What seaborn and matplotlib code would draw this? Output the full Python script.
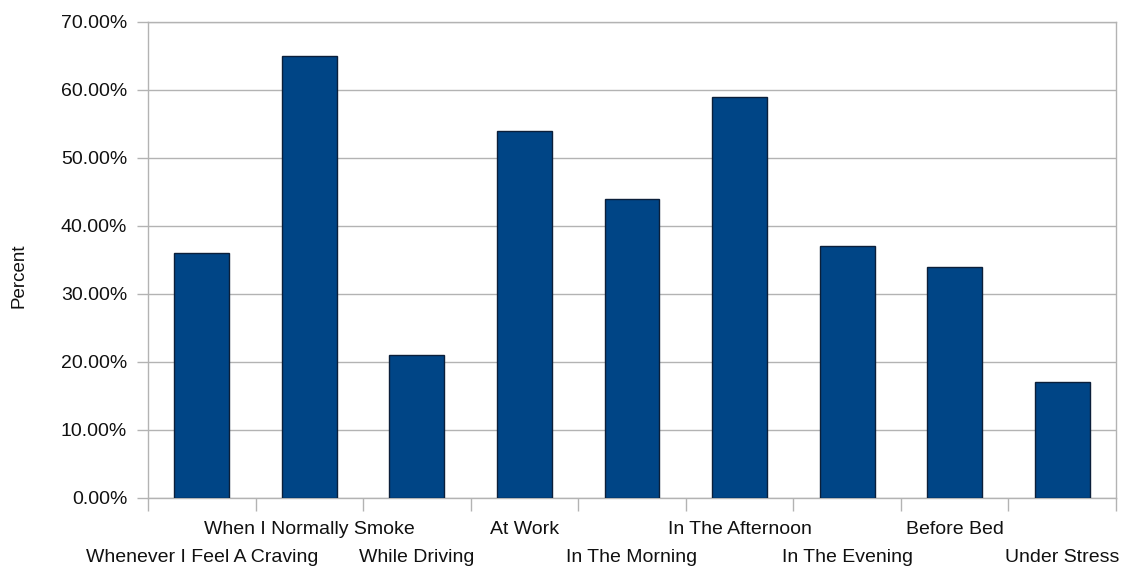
import matplotlib
matplotlib.use("Agg")
import matplotlib.pyplot as plt
import matplotlib.transforms as mtransforms
import seaborn as sns
import pandas as pd
from matplotlib.ticker import FuncFormatter, FixedLocator

categories = [
    "Whenever I Feel A Craving",
    "When I Normally Smoke",
    "While Driving",
    "At Work",
    "In The Morning",
    "In The Afternoon",
    "In The Evening",
    "Before Bed",
    "Under Stress",
]
percent = [0.36, 0.65, 0.21, 0.54, 0.44, 0.59, 0.37, 0.34, 0.17]
y_ticks = [0.0, 0.1, 0.2, 0.3, 0.4, 0.5, 0.6, 0.7]

sns.set_theme(style="white")
plt.rcParams["font.family"] = ["Liberation Sans", "DejaVu Sans"]

df = pd.DataFrame({"category": categories, "percent": percent})

fig = plt.figure(figsize=(11.26, 5.72), dpi=100)
ax = fig.add_axes([148 / 1126, 1 - 498 / 572, 968 / 1126, 476 / 572])

sns.barplot(data=df, x="category", y="percent", color="#004586",
            saturation=1, width=0.51, edgecolor="#0b1f3a", linewidth=1.0,
            ax=ax, zorder=3)

grid_c = "#b3b3b3"
text_c = "#111111"
ax.set_ylim(0, 0.7)
ax.set_xlim(-0.5, len(categories) - 0.5)
ax.yaxis.set_major_locator(FixedLocator(y_ticks))
ax.yaxis.set_major_formatter(FuncFormatter(lambda v, _: f"{v * 100:.2f}%"))
ax.grid(axis="y", color=grid_c, linewidth=1.0, zorder=0)
ax.set_axisbelow(True)

for s in ax.spines.values():
    s.set_color(grid_c)
    s.set_linewidth(1.0)

# category labels on two staggered rows; tick marks sit at category boundaries
ax.set_xticks(range(len(categories)))
ax.set_xticklabels(categories, fontsize=14, color=text_c, va="top")
ax.tick_params(axis="x", which="major", length=0, pad=16.5)
lower_shift = mtransforms.ScaledTranslation(0, -20 / 72, fig.dpi_scale_trans)
for i, lab in enumerate(ax.get_xticklabels()):
    if i % 2 == 0:
        lab.set_transform(lab.get_transform() + lower_shift)
ax.set_xticks([i - 0.5 for i in range(len(categories) + 1)], minor=True)
ax.tick_params(axis="x", which="minor", length=9, width=1.0, color=grid_c,
               bottom=True, direction="out")

ax.tick_params(axis="y", which="major", left=True, length=8, width=1.0,
               color=grid_c, labelsize=14, labelcolor=text_c, pad=7)

ax.set_xlabel("")
ax.set_ylabel("Percent", fontsize=13.5, color=text_c)
ax.yaxis.set_label_coords(-0.124, 0.466)

fig.savefig("out.png", dpi=100)
